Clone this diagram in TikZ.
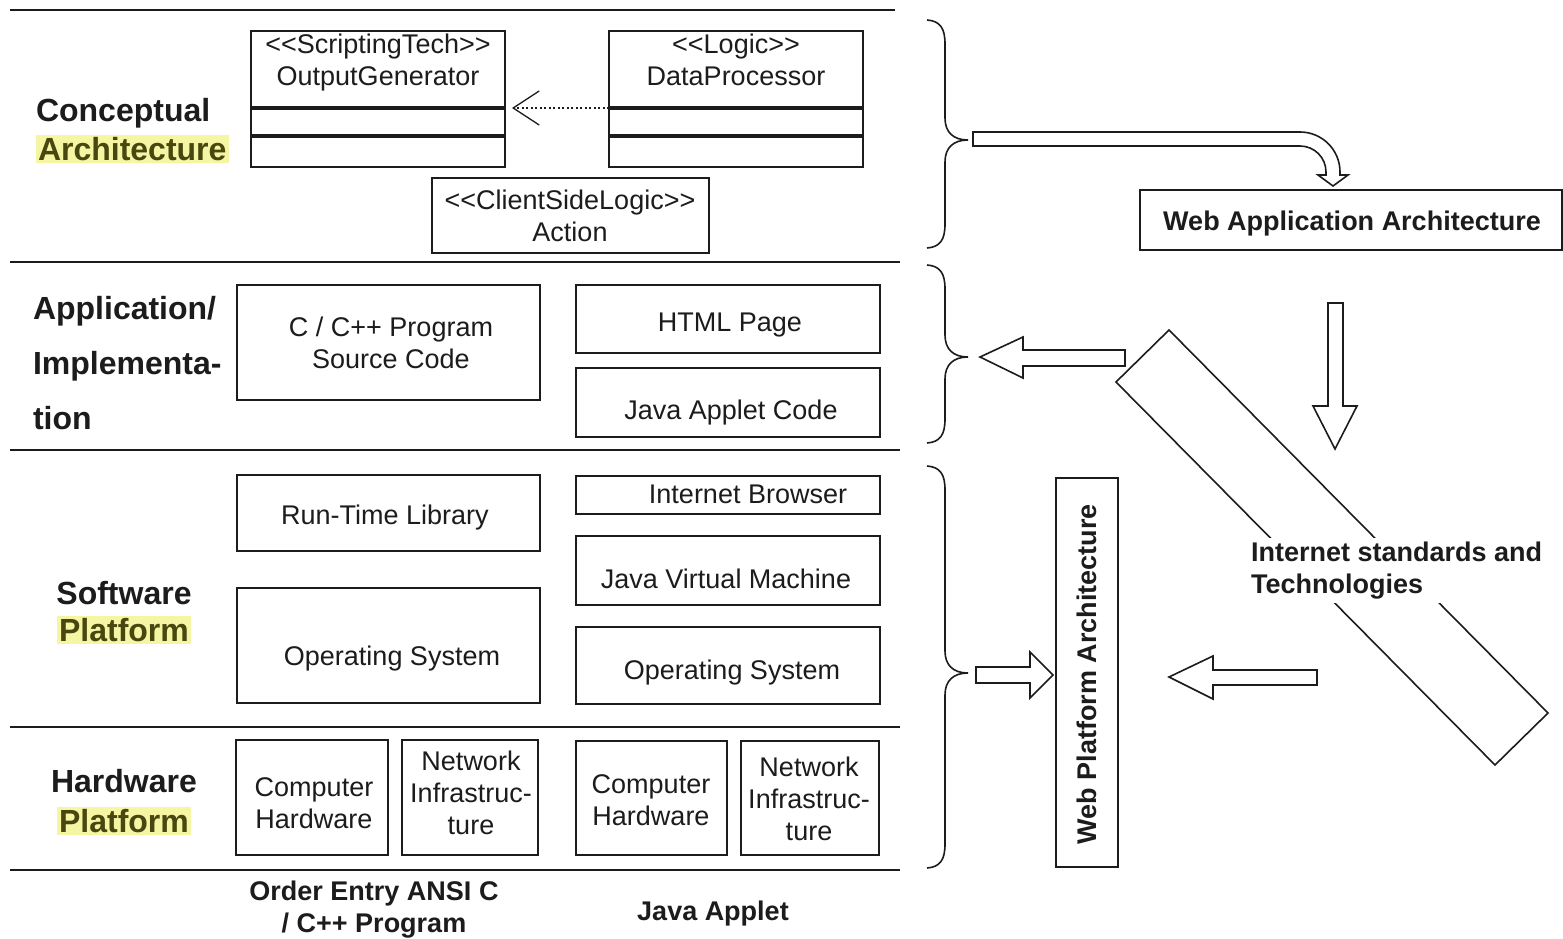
\documentclass[tikz,border=0pt]{standalone}
\usepackage{fontspec}
\setmainfont{Liberation Sans}
\usetikzlibrary{arrows.meta}
\definecolor{ink}{HTML}{1C1C1C}
\definecolor{hlback}{HTML}{F5F5A3}
\definecolor{hltext}{HTML}{47470F}
% highlighted word of a layer caption
\newcommand\hlword[1]{{\setlength{\fboxsep}{2pt}\colorbox{hlback}{\color{hltext}#1}}}
% right curly brace: top y, tip y, bottom y
\newcommand\rightcurly[3]{%
  \draw[curly] (927,#1) .. controls (940,#1+1) and (945,#1+8) .. (945,#1+24)
    -- (945,#2-22) .. controls (945,#2-8) and (953,#2) .. (968,#2)
    .. controls (953,#2) and (945,#2+8) .. (945,#2+22)
    -- (945,#3-24) .. controls (945,#3-8) and (940,#3-1) .. (927,#3);}

\begin{document}
\begin{tikzpicture}[x=1pt,y=-1pt,
  every node/.style={inner sep=0pt,outer sep=0pt},
  frame/.style={draw=ink,line width=1.6pt},
  txt/.style={font=\fontsize{27}{32}\selectfont,text=ink,align=center},
  btxt/.style={font=\fontsize{27}{32}\selectfont\bfseries,text=ink,align=center},
  sep/.style={draw=ink,line width=1.6pt},
  divider/.style={draw=ink,line width=3.5pt},
  hollow/.style={draw=ink,line width=1.6pt,fill=white,line join=miter},
  curly/.style={draw=ink,line width=1.6pt}]

\useasboundingbox (0,0) rectangle (1563,939);
\fill[white] (0,0) rectangle (1563,939);

% layer separators
\coordinate (s0a) at (10,10);  \coordinate (s0b) at (895,10);
\coordinate (s1a) at (10,262); \coordinate (s1b) at (900,262);
\coordinate (s2a) at (10,450); \coordinate (s2b) at (900,450);
\coordinate (s3a) at (10,727); \coordinate (s3b) at (900,727);
\coordinate (s4a) at (10,870); \coordinate (s4b) at (900,870);
\draw[sep] (s0a) -- (s0b);
\draw[sep] (s1a) -- (s1b);
\draw[sep] (s2a) -- (s2b);
\draw[sep] (s3a) -- (s3b);
\draw[sep] (s4a) -- (s4b);

% layer captions
\node[font=\fontsize{32}{39}\selectfont\bfseries,text=ink,align=left,anchor=north west]
  (lconc) at (36,98.3) {Conceptual\\\hlword{Architecture}};
\node[font=\fontsize{32}{55}\selectfont\bfseries,text=ink,align=left,anchor=north west]
  (lapp) at (33,296.5) {Application/\\Implementa-\\tion};
\node[font=\fontsize{32}{37}\selectfont\bfseries,text=ink,align=center,anchor=north]
  (lsw) at (124,581.4) {Software\\\hlword{Platform}};
\node[font=\fontsize{32}{40}\selectfont\bfseries,text=ink,align=center,anchor=north]
  (lhw) at (124,769.4) {Hardware\\\hlword{Platform}};

% conceptual layer: UML classes
\node[frame,minimum width=254,minimum height=136] (og) at (378,99) {};
\draw[divider] (og.west |- 0,108) -- (og.east |- 0,108);
\draw[divider] (og.west |- 0,136) -- (og.east |- 0,136);
\node[txt,anchor=north] (ogt) at (378,34) {<{}<ScriptingTech>{}>\\OutputGenerator};

\node[frame,minimum width=254,minimum height=136] (dp) at (736,99) {};
\draw[divider] (dp.west |- 0,108) -- (dp.east |- 0,108);
\draw[divider] (dp.west |- 0,136) -- (dp.east |- 0,136);
\node[txt,anchor=north] (dpt) at (736,34) {<{}<Logic>{}>\\DataProcessor};

\draw[ink,line width=1.3pt,dash pattern=on 2pt off 2.5pt,shorten >=7pt,
  -{Straight Barb[length=26pt,width=34pt,line width=1.3pt]}]
  (dp.west |- 0,108) -- (og.east |- 0,108);

\node[frame,minimum width=277,minimum height=75] (act) at (570.5,215.5) {};
\node[txt,anchor=north] (actt) at (570,190) {<{}<ClientSideLogic>{}>\\Action};

% application / implementation layer
\node[frame,minimum width=303,minimum height=115] (cpp) at (388.5,342.5) {};
\node[txt,anchor=north] (cppt) at (391,317) {C / C++ Program\\Source Code};
\node[frame,minimum width=304,minimum height=68] (html) at (728,319) {};
\node[txt,anchor=base] (htmlt) at (730,331.7) {HTML Page};
\node[frame,minimum width=304,minimum height=69] (jac) at (728,402.5) {};
\node[txt,anchor=base] (jact) at (731,419.7) {Java Applet Code};

% software platform layer
\node[frame,minimum width=303,minimum height=76] (rtl) at (388.5,513) {};
\node[txt,anchor=base] (rtlt) at (385,524.7) {Run-Time Library};
\node[frame,minimum width=303,minimum height=115] (osa) at (388.5,645.5) {};
\node[txt,anchor=base] (osat) at (392,665.7) {Operating System};
\node[frame,minimum width=304,minimum height=38] (ib) at (728,495) {};
\node[txt,anchor=base] (ibt) at (748,503.7) {Internet Browser};
\node[frame,minimum width=304,minimum height=69] (jvm) at (728,570.5) {};
\node[txt,anchor=base] (jvmt) at (726,588.7) {Java Virtual Machine};
\node[frame,minimum width=304,minimum height=77] (osb) at (728,665.5) {};
\node[txt,anchor=base] (osbt) at (732,679.7) {Operating System};

% hardware platform layer
\node[frame,minimum width=152,minimum height=115] (cha) at (312,797.5) {};
\node[txt,anchor=north] (chat) at (314,778) {Computer\\Hardware};
\node[frame,minimum width=136,minimum height=115] (nwa) at (470,797.5) {};
\node[txt,anchor=north] (nwat) at (471,751) {Network\\Infrastruc-\\ture};
\node[frame,minimum width=151,minimum height=114] (chb) at (651.5,798) {};
\node[txt,anchor=north] (chbt) at (651,775) {Computer\\Hardware};
\node[frame,minimum width=138,minimum height=114] (nwb) at (810,798) {};
\node[txt,anchor=north] (nwbt) at (809,757) {Network\\Infrastruc-\\ture};

% column captions
\node[btxt,anchor=north] (colc) at (374,881) {Order Entry ANSI C\\/ C++ Program};
\node[btxt,anchor=base] (colj) at (713,920.7) {Java Applet};

% braces grouping the layers
\rightcurly{20}{140}{248}
\rightcurly{265}{357}{443}
\rightcurly{466}{673}{868}

% web architecture boxes
\node[frame,minimum width=422,minimum height=60] (waa) at (1351,220) {};
\node[btxt,anchor=base] (waat) at (1352,230.7) {Web Application Architecture};
\node[frame,minimum width=62,minimum height=389] (wpa) at (1087,672.5) {};
\node[btxt,rotate=90] (wpat) at (1087,674) {Web Platform Architecture};

% slanted band of internet standards
\draw[hollow] (1169,330) -- (1548,713) -- (1495,765) -- (1116,382) -- cycle;
\node[btxt,align=left,fill=white,inner sep=4pt,anchor=north west] (ist)
  at (1247,538) {Internet standards and\\Technologies};

% block arrows
\draw[hollow] (973,132) -- (1300,132) arc (-90:0:40) -- (1340,175) -- (1348,175)
  -- (1333,186) -- (1318,175) -- (1326,175) -- (1326,172) arc (0:-90:26)
  -- (973,146) -- cycle;
\draw[hollow] (1328,303) -- (1343,303) -- (1343,406) -- (1357,406) -- (1335,449)
  -- (1313,406) -- (1328,406) -- cycle;
\draw[hollow] (1125,350) -- (1023,350) -- (1023,337) -- (980,357) -- (1023,378)
  -- (1023,366) -- (1125,366) -- cycle;
\draw[hollow] (976,667) -- (1030,667) -- (1030,652) -- (1053,675) -- (1030,698)
  -- (1030,683) -- (976,683) -- cycle;
\draw[hollow] (1317,670) -- (1213,670) -- (1213,656) -- (1169,677) -- (1213,699)
  -- (1213,685) -- (1317,685) -- cycle;
\end{tikzpicture}
\end{document}
